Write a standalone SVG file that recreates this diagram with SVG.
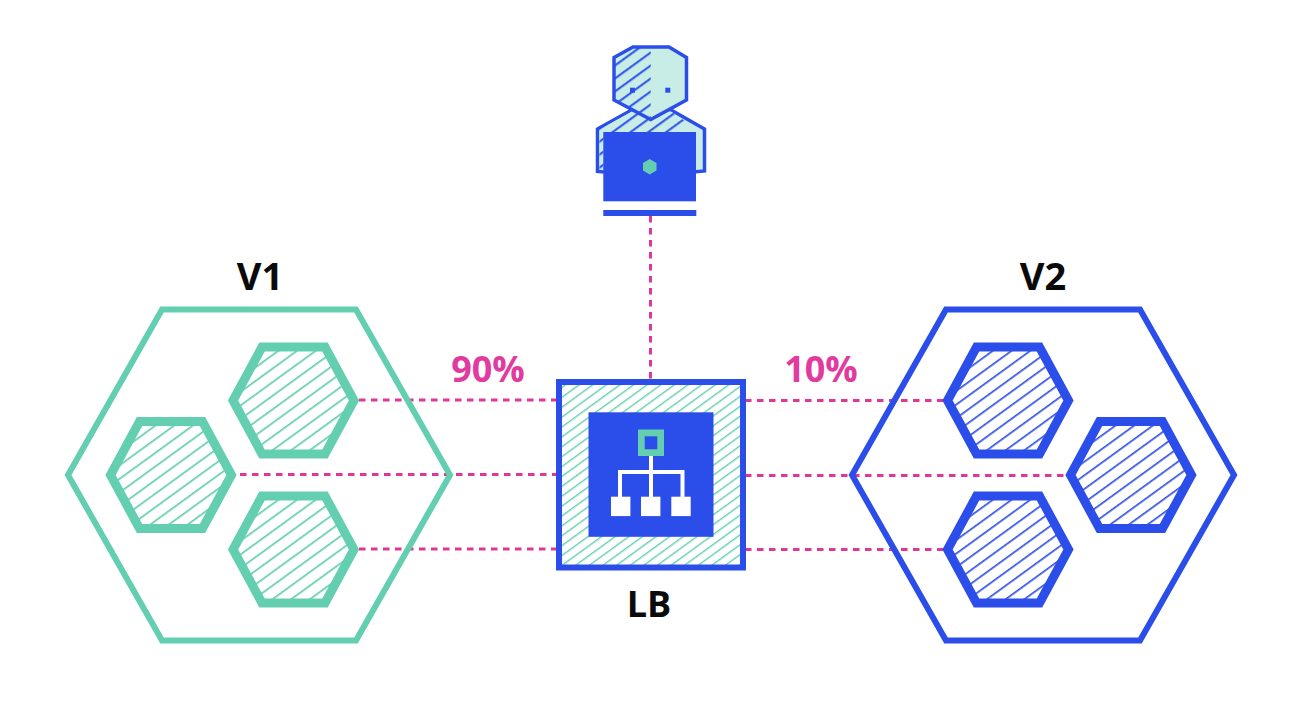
<svg xmlns="http://www.w3.org/2000/svg" width="1300" height="702" viewBox="0 0 1300 702">
<style>
.big{fill:none;stroke-width:6;stroke-linejoin:miter}
.small{stroke-width:9;stroke-linejoin:miter}
.g{stroke:#63cfb0}
.b{stroke:#2b4eea}
.lbl{font-family:"Open Sans",sans-serif;font-weight:700;font-size:38px;text-anchor:middle;fill:#0a0a0a}
.pct{fill:#e23ba0;font-size:36px}
.dash{fill:none;stroke:#e0369c;stroke-width:3;stroke-dasharray:6.500 5.500}
.blue{fill:#2b4eea}
.white{fill:#fff}
</style>
<defs>
<pattern id="hg" width="40" height="11" patternUnits="userSpaceOnUse" patternTransform="rotate(-36)"><rect width="40" height="11" fill="#fff"/><rect y="5" width="40" height="1.700" fill="#63cfb0"/></pattern>
<pattern id="hb" width="40" height="11" patternUnits="userSpaceOnUse" patternTransform="rotate(-36)"><rect width="40" height="11" fill="#fff"/><rect y="5" width="40" height="1.700" fill="#3352e6"/></pattern>
<pattern id="hl" width="40" height="8" patternUnits="userSpaceOnUse" patternTransform="rotate(-36)"><rect width="40" height="8" fill="#fff"/><rect y="3" width="40" height="1.400" fill="#63cfb0"/></pattern>
<pattern id="hp" width="40" height="10.500" patternUnits="userSpaceOnUse" patternTransform="rotate(-36)"><rect width="40" height="10.500" fill="#c8ece6"/><rect y="4" width="40" height="2" fill="#2b4eea"/></pattern>
<polygon id="hex" points="-31.500,-53.500 31.500,-53.500 60.500,0 31.500,53.500 -31.500,53.500 -60.500,0"/>
</defs>
<rect width="1300" height="702" fill="#fff"/>
<g id="connectors">
<path class="dash" d="M650.500 216V379"/>
<path class="dash" d="M359 400H556M240 474.500H556M359 549H556"/>
<path class="dash" d="M745 400.500H945M745 475.500H1066M745 549.500H945"/>
</g>
<g id="v1">
<polygon class="big g" points="162,309.500 356,309.500 450,475 356,640.500 162,640.500 68,475"/>
<use href="#hex" class="small g" x="293.500" y="400.500" fill="url(#hg)"/>
<use href="#hex" class="small g" x="171" y="475" fill="url(#hg)"/>
<use href="#hex" class="small g" x="293.500" y="549.500" fill="url(#hg)"/>
<text class="lbl" x="260" y="290">V1</text>
</g>
<g id="v2">
<polygon class="big b" points="946,309.500 1140,309.500 1234,475 1140,640.500 946,640.500 852,475"/>
<use href="#hex" class="small b" x="1008" y="400.500" fill="url(#hb)"/>
<use href="#hex" class="small b" x="1131" y="475" fill="url(#hb)"/>
<use href="#hex" class="small b" x="1008" y="549.500" fill="url(#hb)"/>
<text class="lbl" x="1043" y="290">V2</text>
</g>
<g id="pct90"><text class="lbl pct" x="488" y="382">90%</text></g>
<g id="pct10"><text class="lbl pct" x="821" y="382">10%</text></g>
<g id="lb">
<rect x="559" y="382" width="184" height="185.500" fill="url(#hl)" stroke="#2b4eea" stroke-width="6"/>
<rect class="blue" x="588.500" y="412.300" width="125" height="124.500"/>
<rect x="638" y="429.500" width="26" height="26.500" fill="#63cfb0"/>
<rect class="blue" x="644.700" y="436.300" width="12.600" height="13"/>
<path fill="none" stroke="#fff" stroke-width="4" d="M651 456V497M620 497V472H682.500V497"/>
<rect class="white" x="611" y="496.700" width="19.400" height="19.400"/>
<rect class="white" x="641" y="496.700" width="19.400" height="19.400"/>
<rect class="white" x="671.300" y="496.700" width="19.400" height="19.400"/>
<text class="lbl" x="649" y="617" style="font-size:36px">LB</text>
</g>
<g id="user">
<polygon points="631.700,110 597.500,129 597.500,171.500 650,176 704.500,171 704.500,129 671,110" fill="#c8ece6" stroke="#2b4eea" stroke-width="3.500"/>
<polygon points="631.700,111.500 599.500,129.500 599.500,170 603.500,170 603.500,132 670,132 685,121 671,111.500" fill="url(#hp)"/>
<polygon points="633,47 669,47 686.500,57.500 686.500,100 650.700,119.500 614,100 614,57.500" fill="#c8ece6"/>
<polygon points="633,47 650.700,47 650.700,119.500 614,100 614,57.500" fill="url(#hp)"/>
<polygon points="633,47 669,47 686.500,57.500 686.500,100 650.700,119.500 614,100 614,57.500" fill="none" stroke="#2b4eea" stroke-width="3.500"/>
<rect class="blue" x="630" y="87.700" width="5" height="5"/>
<rect class="blue" x="665.300" y="87.700" width="5" height="5"/>
<rect class="blue" x="603.300" y="132" width="92.700" height="69.300"/>
<rect class="blue" x="603.300" y="210" width="93" height="6"/>
<polygon points="649.700,159 656.500,163 656.500,170.500 649.700,174.500 643,170.500 643,163" fill="#63cfb0"/>
</g>
</svg>
